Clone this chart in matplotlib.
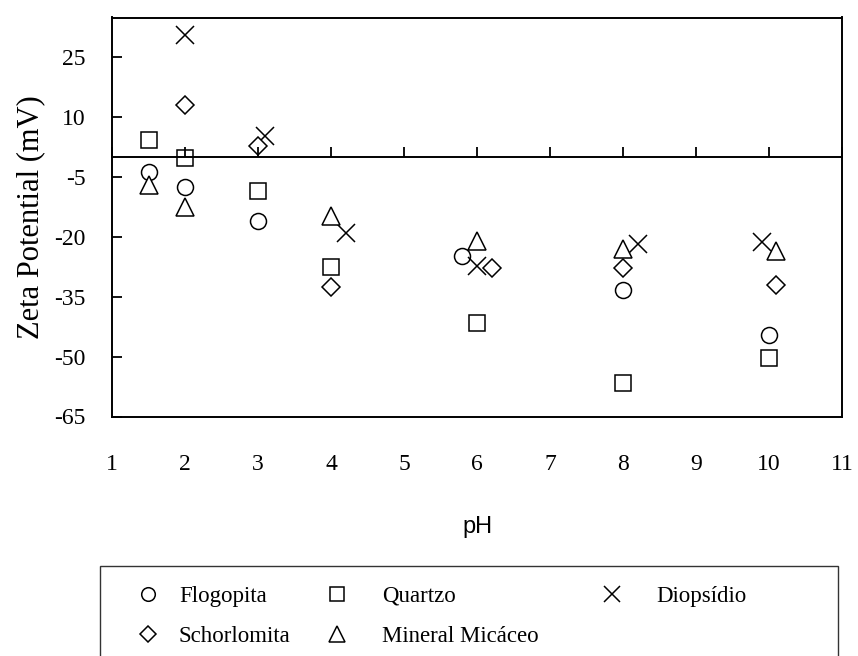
import matplotlib
matplotlib.use("Agg")
import matplotlib.pyplot as plt
import matplotlib.patches as patches

plt.rcParams['font.family'] = ['Liberation Serif', 'DejaVu Serif']
plt.rcParams['axes.unicode_minus'] = False

# pH / zeta potential (mV) for each mineral
ph_flog = [1.5, 2, 3, 5.8, 8, 10]
zeta_flog = [-3.6, -7.6, -15.9, -24.7, -33.4, -44.5]

ph_quartz = [1.5, 2, 3, 4, 6, 8, 10]
zeta_quartz = [4.2, -0.3, -8.6, -27.6, -41.6, -56.6, -50.3]

ph_diop = [2, 3.1, 4.2, 6, 8.2, 9.9]
zeta_diop = [30.6, 5.3, -19.0, -27.2, -21.8, -21.3]

ph_schorl = [2, 3, 4, 6.2, 8, 10.1]
zeta_schorl = [13.1, 2.8, -32.6, -27.8, -27.8, -32.0]

ph_mica = [1.5, 2, 4, 6, 8, 10.1]
zeta_mica = [-7.0, -12.4, -14.7, -20.9, -23.0, -23.4]

x_ticks = list(range(1, 12))
y_ticks = [25, 10, -5, -20, -35, -50, -65]

W, H = 858, 656
fig = plt.figure(figsize=(W / 100, H / 100), dpi=100)
ax = fig.add_axes([112/W, 1 - 416.5/H, 730/W, 399/H])

kw = dict(linestyle='none', color='black', markerfacecolor='white', markeredgewidth=1.1)
h_flog, = ax.plot(ph_flog, zeta_flog, marker='o', markersize=11.5, label='Flogopita', **kw)
h_quartz, = ax.plot(ph_quartz, zeta_quartz, marker='s', markersize=12, label='Quartzo', **kw)
h_diop, = ax.plot(ph_diop, zeta_diop, marker='x', markersize=13.5, label='Diopsídio', **kw)
h_schorl, = ax.plot(ph_schorl, zeta_schorl, marker='D', markersize=9, label='Schorlomita', **kw)
h_mica, = ax.plot(ph_mica, zeta_mica, marker='^', markersize=13, label='Mineral Micáceo', **kw)

ax.set_xlim(1, 11)
ax.set_ylim(-65, 35)
ax.set_xticks(x_ticks)
ax.set_yticks(y_ticks)
ax.tick_params(axis='x', length=0, pad=27, labelsize=17)
ax.tick_params(axis='y', direction='in', length=7, width=1.3, pad=19, labelsize=17)
for s in ax.spines.values():
    s.set_linewidth(1.4)

# x axis crossing at zero with upward ticks
tw = ax.twiny()
tw.set_xlim(1, 11)
tw.set_xticks(x_ticks)
tw.spines['top'].set_position(('data', 0))
tw.spines['top'].set_linewidth(1.4)
for side in ['left', 'right', 'bottom']:
    tw.spines[side].set_visible(False)
tw.tick_params(axis='x', direction='out', length=7, width=1.3, labeltop=False)

ax.set_ylabel('Zeta Potential (mV)', fontsize=22)
ax.yaxis.set_label_coords((45 - 112) / 730, 0.5)
ax.set_xlabel('pH', fontsize=17, family=['Liberation Sans', 'DejaVu Sans'], va='top')
ax.xaxis.set_label_coords(0.5, -(516 - 416.5) / 399)

# legend frame (bottom edge runs off the figure)
frame = patches.Rectangle((100/W, -0.1), 738/W, 0.1 + (H - 566) / H,
                          transform=fig.transFigure, fill=False,
                          edgecolor='#333333', linewidth=1.0)
fig.add_artist(frame)

fs = 16.5
fs_px = fs * 100 / 72
columns = [([h_flog, h_schorl], 148, 0.65),
           ([h_quartz, h_mica], 337, 1.25),
           ([h_diop], 612, 1.25)]
for handles, mx, tpad in columns:
    x0 = mx - 0.6 * fs_px - 0.7 * fs_px
    fig.legend(handles=handles, loc='upper left',
               bbox_to_anchor=(x0 / W, 1 - 572 / H),
               frameon=False, fontsize=fs, handlelength=1.4,
               handletextpad=tpad, borderpad=0.6, labelspacing=0.85,
               borderaxespad=0, markerscale=0.85)

fig.savefig('out.png', dpi=100)
